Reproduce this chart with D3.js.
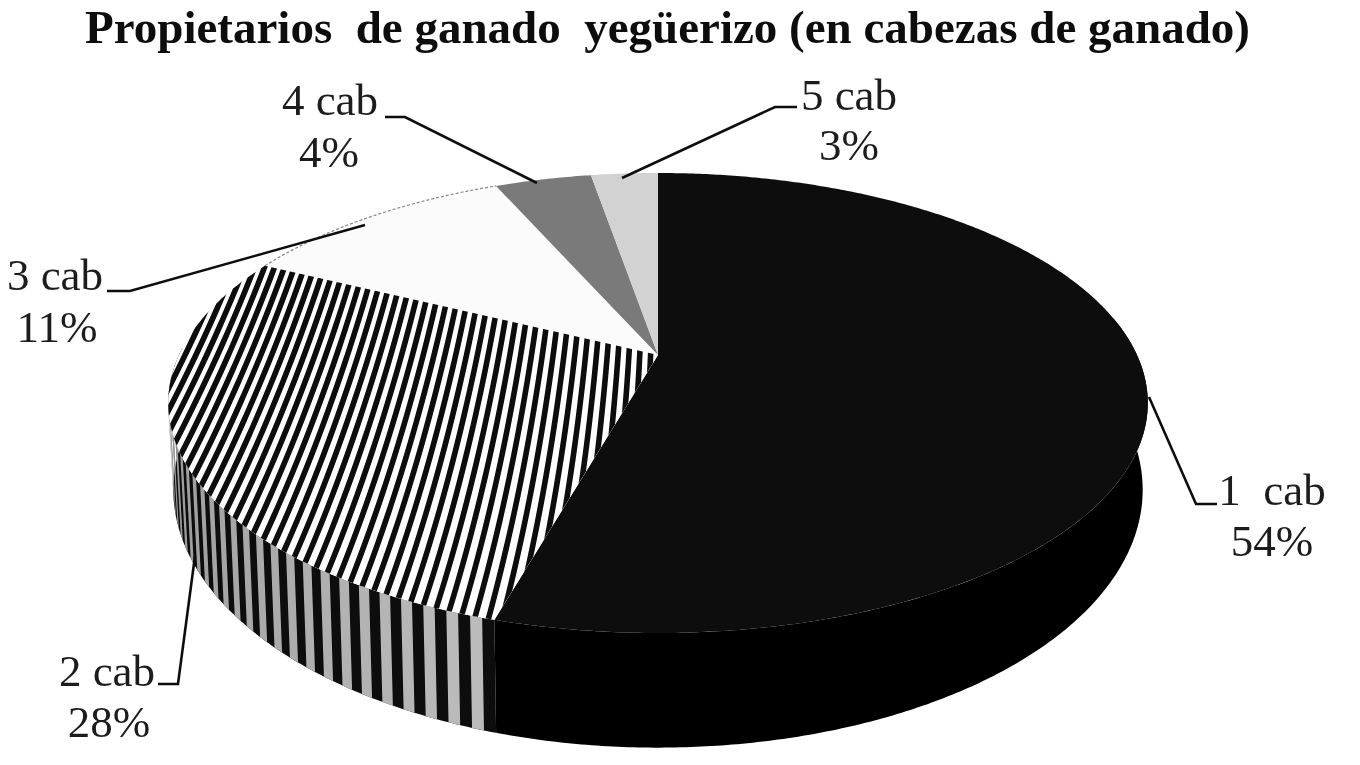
<!DOCTYPE html>
<html><head><meta charset="utf-8">
<script src="https://cdn.jsdelivr.net/npm/d3@7/dist/d3.min.js"></script>
<style>html,body{margin:0;background:#fff}svg{display:block}text{font-family:"Liberation Serif",serif;fill:#1c1c1c;white-space:pre}</style>
</head><body><svg id="c" width="1360" height="765"></svg>
<script>
const chartTitle = "Propietarios  de ganado  yegüerizo (en cabezas de ganado)";
const categories = ["1  cab","2 cab","3 cab","4 cab","5 cab"];
const shares = [54.4,27.9,11.1,3.9,2.7];
const shareLabels = ["54%","28%","11%","4%","3%"];
const topFill = ["#0d0d0d","#fff","#fbfbfb","#7a7a7a","#d2d2d2"];

// label layout: name centre / baselines, and leader polyline
const labelX = [1272,107,55,330,849];
const labelY1 = [505,686,290,115,110];
const labelY2 = [556,737,342,167,160];
const labelX2 = [1272,109,57,329,849];
const leaders = [
 [[1149,397],[1196,504],[1217,504]],
 [[195,556],[178,684],[158,684]],
 [[107,291],[130,291],[365,225]],
 [[385,117],[405,117],[537,183]],
 [[797,107],[775,107],[622,178]]
];

const svg = d3.select("#c");
const defs = svg.append("defs");
defs.append("filter").attr("id","soft").attr("x",0).attr("y",0)
  .attr("filterUnits","userSpaceOnUse").attr("width",1360).attr("height",765)
  .append("feGaussianBlur").attr("stdDeviation",0.7);
const root = svg.append("g").attr("filter","url(#soft)");

// perspective projection of the pie disc
const persp = -0.2087;
const topRing = {cx:658,cy:355,a:479,b:220};
const botRing = {cx:658,cy:436,a:474,b:246.6};
const proj = (ring,t,r=1)=>{
  const u=r*Math.sin(t), v=-r*Math.cos(t), w=1+persp*v;
  return [ring.cx+ring.a*u/w, ring.cy+ring.b*v/w];
};
const arcs = d3.pie().sort(null).startAngle(0).endAngle(2*Math.PI)(shares);
const line = d3.line();
const angleSteps = (a,b,deg=0.5)=>{
  const n=Math.max(2,Math.ceil(Math.abs(b-a)/(deg*Math.PI/180)));
  return d3.range(n+1).map(i=>a+(b-a)*i/n);
};
const wedge = d=>"M"+proj(topRing,0,0).join(",")+"L"+line(angleSteps(d.startAngle,d.endAngle).map(t=>proj(topRing,t))).slice(1)+"Z";
const wall = (a,b)=>{
  const ts=angleSteps(a,b);
  return line(ts.map(t=>proj(topRing,t)).concat(ts.slice().reverse().map(t=>proj(botRing,t))))+"Z";
};

// walls
const wallStart = 80*Math.PI/180, wallEnd = 272*Math.PI/180;
root.append("path").attr("d",wall(wallStart,arcs[0].endAngle)).attr("fill","#030303");
const s2=arcs[1].startAngle;
root.append("path").attr("d",wall(s2,wallEnd)).attr("fill","#0a0a0a");
const step=2.5*Math.PI/180;
const greyScale=d3.scaleLinear().domain([s2,wallEnd]).range(["#bcbcbc","#8c8c8c"]);
for(let t=s2+step*0.5;t<wallEnd;t+=step){
  root.append("path").attr("d",wall(t,Math.min(t+step*0.5,wallEnd))).attr("fill",greyScale(t));
}

// top face
root.append("g").selectAll("path.s").data(arcs).join("path").attr("class","s")
  .attr("d",wedge).attr("fill",(d,i)=>topFill[i]);

// hatch of the 2 cab slice: stripes that fan out with the perspective
defs.append("clipPath").attr("id","s2").append("path").attr("d",wedge(arcs[1]));
const tilt=(x,y)=>0.14+(550-x)*0.00095+(y-370)*0.0003;
const stripeLine=x0=>{
  const down=[],up=[];
  let x=x0; for(let y=400;y<=660;y+=5){down.push([x,y]);x-=tilt(x,y)*5;}
  x=x0; for(let y=400;y>=240;y-=5){up.push([x,y]);x+=tilt(x,y)*5;}
  return up.reverse().concat(down.slice(1));
};
const stripes=root.append("g").attr("clip-path","url(#s2)");
d3.range(-45,12).forEach(i=>{
  stripes.append("path").attr("d",line(stripeLine(558+i*11.3)))
    .attr("fill","none").attr("stroke","#0a0a0a").attr("stroke-width",5.6);
});
// faint dotted rim of the pale slice
root.append("path").attr("d",line(angleSteps(arcs[2].startAngle,arcs[2].endAngle).map(t=>proj(topRing,t))))
  .attr("fill","none").attr("stroke","#8a8a8a").attr("stroke-width",1.2).attr("stroke-dasharray","3 2");

// leaders
root.selectAll("path.l").data(leaders).join("path").attr("class","l")
  .attr("d",line).attr("fill","none").attr("stroke","#111").attr("stroke-width",2.6);

// text
root.append("text").attr("x",667.5).attr("y",43).attr("text-anchor","middle")
  .attr("font-size",47).attr("font-weight","bold").style("fill","#111").text(chartTitle);
root.selectAll("text.n").data(categories).join("text").attr("class","n")
  .attr("x",(d,i)=>labelX[i]).attr("y",(d,i)=>labelY1[i]).attr("text-anchor","middle").attr("font-size",45).text(d=>d);
root.selectAll("text.p").data(shareLabels).join("text").attr("class","p")
  .attr("x",(d,i)=>labelX2[i]).attr("y",(d,i)=>labelY2[i]).attr("text-anchor","middle").attr("font-size",45).text(d=>d);
</script></body></html>
